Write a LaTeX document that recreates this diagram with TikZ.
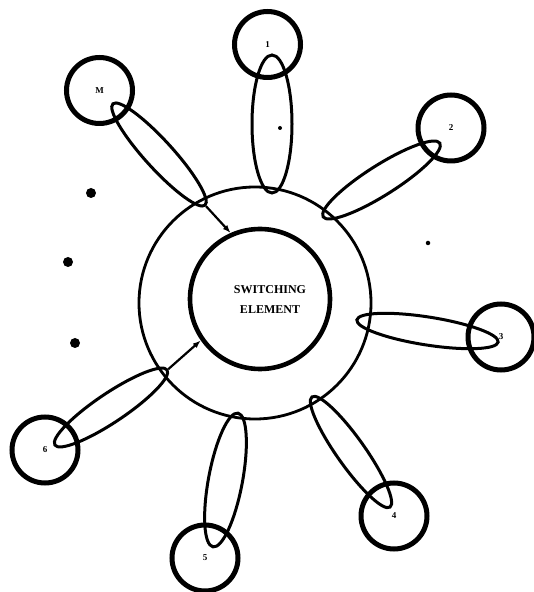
\documentclass[tikz,border=0pt]{standalone}
\usepackage{fontspec}
\setmainfont{Liberation Serif}
\usetikzlibrary{shapes.geometric,arrows.meta}
\begin{document}
\begin{tikzpicture}[x=1pt,y=1pt,
  station/.style={circle,draw,line width=5pt,minimum size=66pt,inner sep=0pt,font=\bfseries\fontsize{9}{9}\selectfont},
  pill/.style={ellipse,draw,line width=3pt,inner sep=0pt},
  ringline/.style={circle,draw,inner sep=0pt},
  bigdot/.style={circle,fill,inner sep=0pt,minimum size=10pt},
  smalldot/.style={circle,fill,inner sep=0pt,minimum size=4.5pt},
  feed/.style={line width=2.2pt,-{Latex[length=8pt,width=6pt]}}]
\useasboundingbox (0,0) rectangle (534,592);

% central ring and switching element
\node[ringline,line width=2.8pt,minimum size=232pt] (outer) at (255,289) {};
\node[ringline,line width=4.6pt,minimum size=140pt] (inner) at (260,293) {};
\node[font=\bfseries\fontsize{12}{20}\selectfont,align=center] (label) at (270,292) {SWITCHING\\ELEMENT};

% stations
\node[station] (c1) at (267.5,547.5) {1};
\node[station] (c2) at (451,464) {2};
\node[station] (c3) at (501,255) {3};
\node[station] (c4) at (394,76) {4};
\node[station] (c5) at (205,34) {5};
\node[station] (c6) at (45,142) {6};
\node[station] (cM) at (99.5,501.5) {M};

% links (pills)
\node[pill,minimum width=138pt,minimum height=40pt,rotate=-90] (p1) at (272,468) {};
\node[pill,minimum width=138pt,minimum height=30pt,rotate=212.3] (p2) at (381.5,412) {};
\node[pill,minimum width=143pt,minimum height=28pt,rotate=-8.9] (p3) at (427.5,261) {};
\node[pill,minimum width=135pt,minimum height=28pt,rotate=125.3] (p4) at (351,140) {};
\node[pill,minimum width=136pt,minimum height=34pt,rotate=79.4] (p5) at (225.5,112) {};
\node[pill,minimum width=135pt,minimum height=29pt,rotate=33.8] (p6) at (111,184.5) {};
\node[pill,minimum width=137pt,minimum height=28pt,rotate=-47.7] (pM) at (159,437.5) {};

% feeds into the switching element
\draw[feed] (pM.east) -- (inner.114);
\draw[feed] (p6.east) -- (inner.215);

% ellipsis dots
\node[bigdot] (d1) at (91,399) {};
\node[bigdot] (d2) at (68,330) {};
\node[bigdot] (d3) at (75,249) {};
\node[smalldot] (d4) at (428,349) {};
\node[smalldot,minimum size=4pt] (d5) at (280,464) {};
\end{tikzpicture}
\end{document}
